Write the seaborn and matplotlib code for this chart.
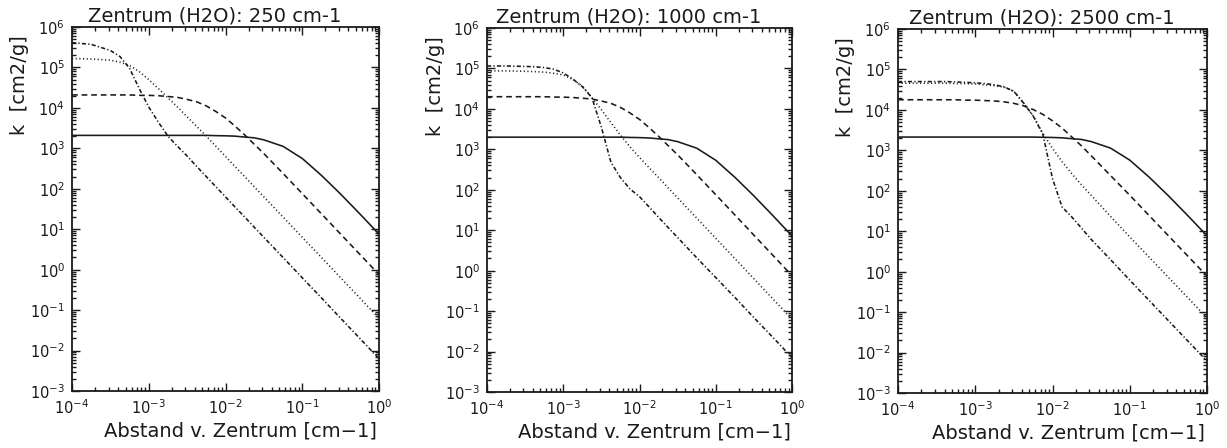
import numpy as np
import pandas as pd
import matplotlib
matplotlib.use("Agg")
import matplotlib.pyplot as plt
from matplotlib.ticker import LogLocator, NullFormatter
import seaborn as sns

# ---- data ----
x = [1.0e-4, 1.78e-4, 3.16e-4, 4.22e-4, 5.62e-4, 7.50e-4, 1.0e-3, 1.33e-3, 1.78e-3,
     2.37e-3, 3.16e-3, 4.22e-3, 5.62e-3, 7.50e-3, 1.0e-2, 1.33e-2, 1.78e-2, 2.37e-2,
     3.16e-2, 5.62e-2, 0.1, 0.178, 0.316, 0.562, 1.0]

titles = ["Zentrum (H2O): 250 cm-1", "Zentrum (H2O): 1000 cm-1", "Zentrum (H2O): 2500 cm-1"]

# panel 1 : 250 cm-1
k250_solid = [2090]*13 + [2060, 2040, 2000, 1900, 1820, 1620, 1120, 562, 214, 74.1, 24.0, 7.59]
k250_dash = [2.09e4, 2.09e4, 2.09e4, 2.09e4, 2.09e4, 2.04e4, 2.04e4, 2.0e4, 1.91e4, 1.82e4,
             1.62e4, 1.41e4, 1.12e4, 8130, 5620, 3550, 2140, 1260, 741, 240, 75.9, 24.0,
             7.59, 2.40, 0.759]
k250_dot = [1.66e5, 1.62e5, 1.51e5, 1.35e5, 1.12e5, 7.94e4, 5.01e4, 3.02e4, 1.78e4, 1.05e4,
            6030, 3470, 2000, 1120, 631, 355, 200, 112, 63.1, 20.0, 6.31, 2.0, 0.631, 0.200,
            0.0631]
k250_dashdot = [4.1e5, 3.72e5, 2.63e5, 1.86e5, 9.55e4, 3.02e4, 1.05e4, 4470, 2000, 1120, 646,
                355, 200, 112, 63.1, 35.5, 20.0, 11.2, 6.31, 2.0, 0.631, 0.2, 0.0631, 0.02,
                0.00631]

# panel 2 : 1000 cm-1
k1000_solid = [2000]*13 + [1970, 1950, 1910, 1820, 1740, 1550, 1070, 537, 204, 70.8, 22.9, 7.24]
k1000_dash = [2.0e4, 2.0e4, 2.0e4, 2.0e4, 2.0e4, 1.96e4, 1.95e4, 1.91e4, 1.84e4, 1.75e4,
              1.57e4, 1.37e4, 1.09e4, 7940, 5500, 3470, 2100, 1240, 733, 238, 75.5, 23.9,
              7.56, 2.39, 0.757]
k1000_dot = [8.71e4, 8.71e4, 8.51e4, 8.32e4, 8.13e4, 7.59e4, 6.92e4, 5.37e4, 3.63e4, 1.91e4,
             9550, 4570, 2240, 1150, 631, 355, 200, 112, 63.1, 20.0, 6.31, 2.0, 0.631, 0.2,
             0.0631]
k1000_dashdot = [1.15e5, 1.15e5, 1.12e5, 1.10e5, 1.05e5, 9.55e4, 7.76e4, 5.50e4, 3.55e4, 1.91e4,
                 3550, 479, 200, 105, 67.6, 38.0, 20.9, 11.7, 6.61, 2.09, 0.676, 0.219, 0.0692,
                 0.0224, 0.00708]

# panel 3 : 2500 cm-1
k2500_solid = [2130]*13 + [2100, 2080, 2040, 1940, 1860, 1650, 1140, 573, 218, 75.5, 24.5, 7.74]
k2500_dash = [1.78e4, 1.78e4, 1.78e4, 1.78e4, 1.78e4, 1.74e4, 1.74e4, 1.70e4, 1.66e4, 1.58e4,
              1.45e4, 1.26e4, 1.02e4, 7760, 5370, 3550, 2140, 1290, 741, 240, 77.6, 24.5,
              7.76, 2.45, 0.776]
k2500_dot = [4.57e4, 4.57e4, 4.57e4, 4.57e4, 4.47e4, 4.47e4, 4.37e4, 4.17e4, 3.98e4, 3.63e4,
             2.88e4, 1.48e4, 7080, 2630, 1120, 525, 263, 141, 77.6, 23.4, 7.24, 2.29, 0.724,
             0.229, 0.0724]
k2500_dashdot = [5.01e4, 5.01e4, 5.01e4, 5.01e4, 4.90e4, 4.79e4, 4.68e4, 4.47e4, 4.17e4, 3.72e4,
                 2.88e4, 1.48e4, 7080, 2510, 200, 39.8, 22.4, 12.0, 6.31, 2.0, 0.617, 0.195,
                 0.0617, 0.0195, 0.00617]

panels = [
    {"solid": k250_solid, "dash": k250_dash, "dot": k250_dot, "dashdot": k250_dashdot},
    {"solid": k1000_solid, "dash": k1000_dash, "dot": k1000_dot, "dashdot": k1000_dashdot},
    {"solid": k2500_solid, "dash": k2500_dash, "dot": k2500_dot, "dashdot": k2500_dashdot},
]

xlabel = "Abstand v. Zentrum [cm\u22121]"
ylabel = "k  [cm2/g]"

# ---- style ----
sns.set_theme(style="ticks")
plt.rcParams["font.family"] = ["DejaVu Sans"]
plt.rcParams["mathtext.default"] = "regular"

W, H = 1227, 448
fig = plt.figure(figsize=(W / 100, H / 100), dpi=100)

# axes pixel boxes (left, top, right, bottom)
boxes = [(72, 27, 379, 391), (487, 28, 792, 392), (898, 29, 1207, 393)]

dashes = {"solid": "", "dash": (3.6, 2.4), "dot": (0.7, 1.6), "dashdot": (2.6, 1.4, 0.8, 1.4)}
order = ["solid", "dash", "dot", "dashdot"]
ink = "#1a1a1a"

for box, data, title in zip(boxes, panels, titles):
    l, t, r, b = box
    ax = fig.add_axes([l / W, 1 - b / H, (r - l) / W, (b - t) / H])
    rows = []
    for name in order:
        for xv, yv in zip(x, data[name]):
            rows.append({"x": xv, "k": yv, "curve": name})
    df = pd.DataFrame(rows)
    sns.lineplot(data=df, x="x", y="k", style="curve", style_order=order,
                 dashes=dashes, color=ink, linewidth=1.15, legend=False, ax=ax,
                 sort=False, estimator=None)
    ax.set_xscale("log")
    ax.set_yscale("log")
    ax.set_xlim(1e-4, 1)
    ax.set_ylim(1e-3, 1e6)
    ax.xaxis.set_major_locator(LogLocator(base=10, numticks=20))
    ax.yaxis.set_major_locator(LogLocator(base=10, numticks=20))
    ax.xaxis.set_minor_locator(LogLocator(base=10, subs=np.arange(2, 10), numticks=40))
    ax.yaxis.set_minor_locator(LogLocator(base=10, subs=np.arange(2, 10), numticks=40))
    ax.xaxis.set_minor_formatter(NullFormatter())
    ax.yaxis.set_minor_formatter(NullFormatter())
    ax.tick_params(which="both", direction="in", top=True, right=True,
                   color=ink, labelcolor=ink, labelsize=10.5, width=1.0)
    ax.tick_params(which="major", length=6, pad=5)
    ax.tick_params(which="minor", length=3)
    for s in ax.spines.values():
        s.set_color(ink)
        s.set_linewidth(1.3)
    ax.set_xlabel("")
    ax.set_ylabel("")
    ax.text(0.465, 1.004, title, transform=ax.transAxes, ha="center", va="bottom",
            fontsize=14, color=ink)
    ax.text(0.55, -0.11, xlabel, transform=ax.transAxes, ha="center", va="center",
            fontsize=14, color=ink)
    ax.text(-0.17, 0.84, ylabel, transform=ax.transAxes, ha="center", va="center",
            rotation=90, fontsize=14, color=ink)

fig.savefig("out.png", dpi=100, facecolor="white")
